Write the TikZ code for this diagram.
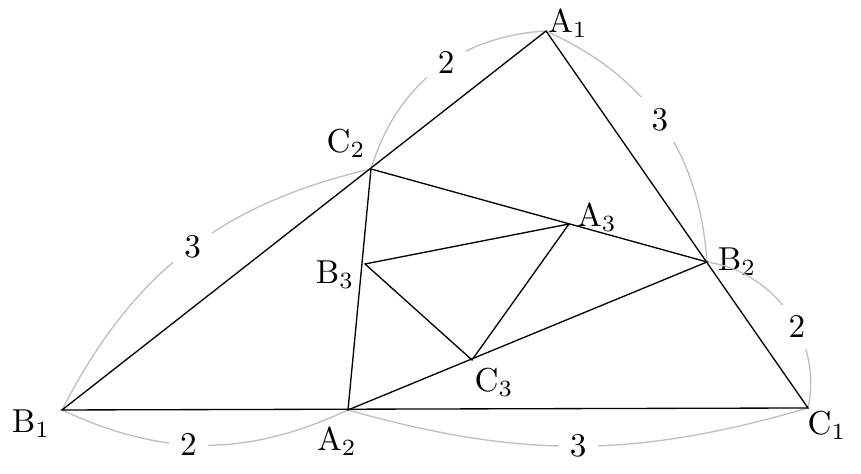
\documentclass[tikz,border=0pt]{standalone}
\usepackage{amsmath}
\begin{document}
\begin{tikzpicture}[x=1.06cm,y=1.06cm,
  bogen/.style={black!25},
  zahl/.style={fill=white,text=black}]

\useasboundingbox (0,0) rectangle (8.61,4.74);

% Eckpunkte
\coordinate (A1) at (5.46,4.43);
\coordinate (B1) at (0.62,0.64);
\coordinate (C1) at (8.08,0.66);
\coordinate (C2) at (3.71,3.05);
\coordinate (B2) at (7.07,2.12);
\coordinate (A2) at (3.48,0.64);
\coordinate (A3) at (5.69,2.50);
\coordinate (B3) at (3.65,2.10);
\coordinate (C3) at (4.72,1.14);

% Beschriftung
\node (lA1) at (5.68,4.50) {$\mathrm{A}_1$};
\node (lB1) at (0.31,0.50) {$\mathrm{B}_1$};
\node (lC1) at (8.27,0.48) {$\mathrm{C}_1$};
\node (lA2) at (3.37,0.32) {$\mathrm{A}_2$};
\node (lB2) at (7.37,2.12) {$\mathrm{B}_2$};
\node (lC2) at (3.46,3.30) {$\mathrm{C}_2$};
\node (lA3) at (5.97,2.56) {$\mathrm{A}_3$};
\node (lB3) at (3.35,1.99) {$\mathrm{B}_3$};
\node (lC3) at (4.94,0.91) {$\mathrm{C}_3$};

% Boegen mit Teilverhaeltnissen
\draw[bogen] (B1) to[bend left=25] node[zahl,pos=0.52] (z1) {3} (C2);
\draw[bogen] (C2) to[bend left=35] node[zahl,pos=0.56] (z2) {2} (A1);
\draw[bogen] (A1) to[bend left=31] node[zahl,pos=0.49] (z3) {3} (B2);
\draw[bogen] (B2) to[bend left=47] node[zahl,pos=0.58] (z4) {2} (C1);
\draw[bogen] (C1) to[bend left=16] node[zahl,pos=0.5]  (z5) {3} (A2);
\draw[bogen] (A2) to[bend left=25] node[zahl,pos=0.56] (z6) {2} (B1);

% Dreiecke
\draw (A1) -- (B1) -- (C1) -- cycle;
\draw (A2) -- (B2) -- (C2) -- cycle;
\draw (A3) -- (B3) -- (C3) -- cycle;

\end{tikzpicture}
\end{document}
